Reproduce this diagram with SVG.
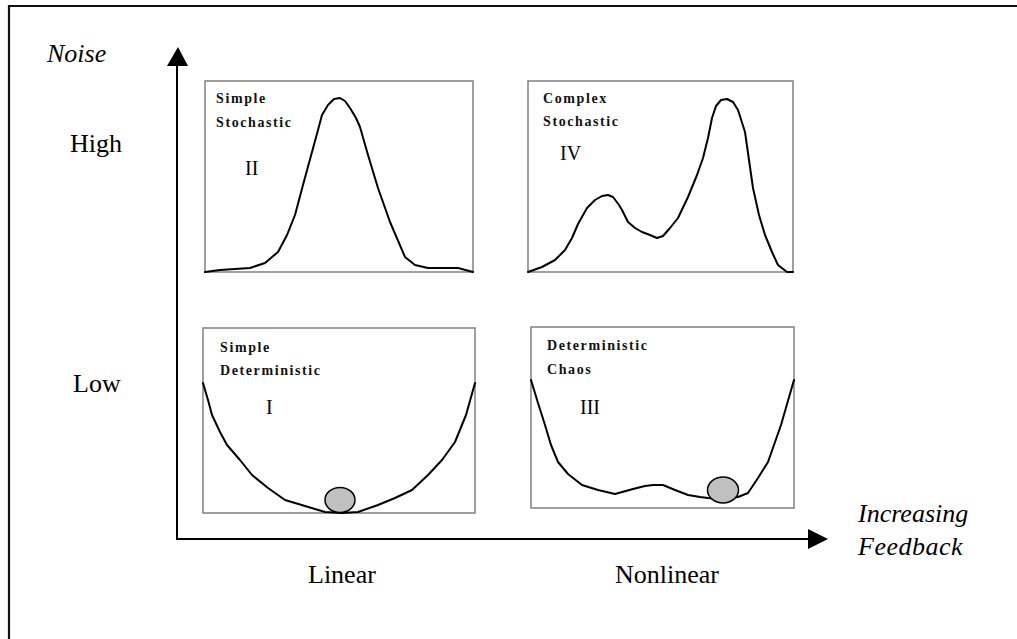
<svg xmlns="http://www.w3.org/2000/svg" width="1017" height="639" viewBox="0 0 1017 639">
<style>
.big{font-family:"Liberation Serif","Times New Roman",serif;font-size:26px;fill:#000}
.it{font-style:italic}
.num{font-family:"Liberation Serif","Times New Roman",serif;font-size:20px;fill:#000}
.lbl{font-family:"Liberation Serif","Times New Roman",serif;font-size:14px;font-weight:bold;letter-spacing:1.6px;fill:#111}
.box{fill:#fff;stroke:#808080;stroke-width:1.5}
.curve{fill:none;stroke:#000;stroke-width:2;stroke-linejoin:round;stroke-linecap:round}
.ball{fill:#c0c0c0;stroke:#000;stroke-width:1.5}
.axis{stroke:#000;stroke-width:2;fill:none}
</style>
<rect width="1017" height="639" fill="#fff"/>
<path d="M9,640 L9,6 L1018,6" fill="none" stroke="#111" stroke-width="2.2"/>

<g id="axis-labels">
<text class="big it" x="47" y="62">Noise</text>
<text class="big" x="70" y="152">High</text>
<text class="big" x="73" y="392">Low</text>
<text class="big" x="308" y="583">Linear</text>
<text class="big" x="615" y="583">Nonlinear</text>
<text class="big it" x="858" y="522">Increasing</text>
<text class="big it" x="858" y="555" letter-spacing="0.5">Feedback</text>
</g>

<g id="connectors">
<path class="axis" d="M177,540 L177,64"/>
<polygon points="167,66 188,66 178,47" fill="#000"/>
<path class="axis" d="M176,539 L810,539"/>
<polygon points="808,529 808,549 828,539" fill="#000"/>
</g>

<g id="node-II">
<rect class="box" x="205" y="81" width="268" height="191"/>
<polyline class="curve" points="205,272 220,270 250,268 265,263 278,252 287,235 295,215 303,185 312,152 318,130 322,115 328,105 334,99 340,98 345,101 350,108 356,118 360,127 368,155 378,188 390,222 405,257 415,265 428,268 458,268 473,272"/>
<text class="lbl" x="216" y="103">Simple</text>
<text class="lbl" x="216" y="127" letter-spacing="2.4">Stochastic</text>
<text class="num" x="245" y="175">II</text>
</g>

<g id="node-IV">
<rect class="box" x="528" y="81" width="265" height="191"/>
<polyline class="curve" points="528,272 542,267 555,260 565,250 572,238 578,224 587,208 595,200 602,196 608,195 613,197 619,205 622,210 628,222 635,228 642,232 650,235 657,238 663,236 670,228 678,218 688,197 697,175 703,158 708,138 712,118 716,106 721,100 727,99 733,102 738,110 745,132 749,160 753,188 759,215 765,235 772,252 778,265 787,272 793,272"/>
<text class="lbl" x="543" y="103" letter-spacing="2.4">Complex</text>
<text class="lbl" x="543" y="126" letter-spacing="2.4">Stochastic</text>
<text class="num" x="560" y="160">IV</text>
</g>

<g id="node-I">
<rect class="box" x="203" y="328" width="272" height="185"/>
<polyline class="curve" points="203,383 208,400 212,415 220,432 227,445 240,460 252,475 268,488 285,500 305,506 325,512 342,513 358,512 378,505 395,498 412,490 428,475 442,460 455,442 466,415 475,383"/>
<ellipse class="ball" cx="340" cy="500" rx="15" ry="12.5"/>
<text class="lbl" x="220" y="352">Simple</text>
<text class="lbl" x="220" y="375">Deterministic</text>
<text class="num" x="266" y="414">I</text>
</g>

<g id="node-III">
<rect class="box" x="531" y="327" width="263" height="181"/>
<polyline class="curve" points="531,380 538,403 545,425 551,445 558,462 568,474 582,485 598,490 615,494 633,489 645,486 653,485 663,485 675,490 688,495 700,497 708,498 720,499 738,497 748,493 758,478 768,462 781,425 794,380"/>
<ellipse class="ball" cx="723" cy="490" rx="15.5" ry="13"/>
<text class="lbl" x="547" y="350">Deterministic</text>
<text class="lbl" x="547" y="374" letter-spacing="2.4">Chaos</text>
<text class="num" x="580" y="414">III</text>
</g>
</svg>
